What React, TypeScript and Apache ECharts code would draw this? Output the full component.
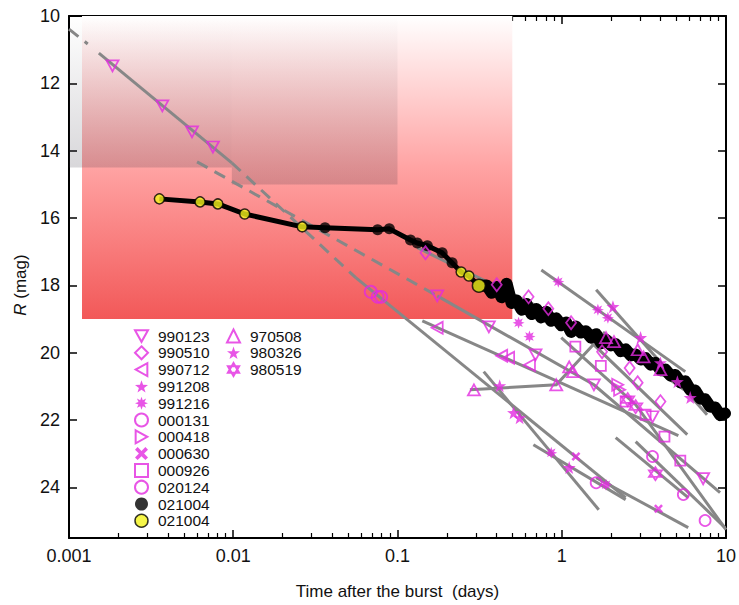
import React, { useEffect, useRef } from 'react';
import * as echarts from 'echarts';

// ---------- data (time after burst in days, R magnitude) ----------
const grb990123: [number, number][] = [
  [0.00184, 11.48], [0.0037, 12.67], [0.00561, 13.44], [0.00752, 13.89],
  [0.1745, 18.31], [0.36, 19.23], [0.692, 20.06], [1.57, 20.95], [3.57, 21.9], [7.26, 23.74],
];
const grb990510: [number, number][] = [
  [0.148, 17.03], [0.402, 17.98], [0.628, 18.34], [0.829, 18.69], [1.14, 19.11],
  [1.76, 19.97], [2.59, 20.45], [2.9, 20.89], [3.99, 21.45],
];
const grb990712: [number, number][] = [[0.1745, 19.26], [0.431, 20.09], [0.475, 20.15], [0.636, 20.36]];
const grb991208: [number, number][] = [[2.05, 18.63], [3.02, 19.55], [3.99, 20.3], [5.06, 20.86], [6.06, 21.33]];
const grb991216: [number, number][] = [
  [0.546, 19.11], [0.636, 19.52], [0.953, 17.89], [1.66, 18.72], [1.91, 18.96], [0.863, 22.97], [1.86, 23.92],
];
const grb000131: [number, number][] = [[1.62, 23.86], [3.57, 23.08], [5.5, 24.21], [7.46, 24.98]];
const grb000418: [number, number][] = [[2.19, 20.95], [2.25, 21.1]];
const grb000630: [number, number][] = [[1.22, 23.08], [3.88, 24.63]];
const grb000926: [number, number][] = [[1.21, 19.82], [1.73, 20.39], [2.45, 21.45], [3.24, 21.84], [4.22, 22.49], [5.27, 23.2]];
const grb020124: [number, number][] = [[0.0687, 18.19], [0.0757, 18.34], [0.0795, 18.34]];
const grb970508: [number, number][] = [
  [0.292, 21.1], [0.926, 20.95], [1.11, 20.42], [1.17, 20.56], [1.86, 19.55],
  [2.08, 19.67], [2.9, 19.91], [3.15, 20.12], [3.99, 20.5],
];
const grb980326: [number, number][] = [[0.419, 20.98], [0.509, 21.78], [0.554, 21.93], [1.11, 23.41]];
const grb980519: [number, number][] = [[2.52, 21.39], [2.82, 21.6], [3.72, 23.59]];

// GRB 021004 light curve
const grb021004Early: [number, number][] = [
  [0.00355, 15.43], [0.00628, 15.52], [0.00806, 15.58], [0.01174, 15.88], [0.0263, 16.26],
  [0.0362, 16.29], [0.0757, 16.35], [0.0892, 16.32], [0.12, 16.65], [0.132, 16.74],
  [0.152, 16.82], [0.187, 17.03], [0.215, 17.33], [0.244, 17.6], [0.272, 17.72], [0.313, 18.01],
];
const lateBandT = [
  0.313, 0.35, 0.375, 0.402, 0.43, 0.462, 0.495, 0.531, 0.57, 0.61, 0.655, 0.701, 0.75, 0.805, 0.86,
  0.926, 0.99, 1.064, 1.14, 1.22, 1.31, 1.4, 1.51, 1.62, 1.74, 1.86, 2.0, 2.13, 2.29, 2.45, 2.63,
  2.82, 3.03, 3.24, 3.48, 3.72, 4.0, 4.28, 4.6, 4.92, 5.28, 5.65, 6.06, 6.49, 6.97, 7.46, 8.0, 8.57, 9.2, 9.86,
];
const lateBandR = [
  18.01, 18.0, 18.22, 18.05, 18.35, 17.95, 18.52, 18.45, 18.72, 18.55, 18.85, 18.7, 18.95, 18.78, 19.05,
  18.98, 19.18, 19.1, 19.38, 19.22, 19.4, 19.36, 19.55, 19.45, 19.72, 19.62, 19.78, 19.74, 19.95, 19.9, 20.08,
  20.05, 20.2, 20.16, 20.35, 20.3, 20.52, 20.5, 20.68, 20.66, 20.88, 20.85, 21.1, 21.12, 21.36, 21.38, 21.6, 21.62, 21.85, 21.8,
];
const blackDots: [number, number][] = [
  [0.0362, 16.29], [0.0757, 16.35], [0.0892, 16.32], [0.12, 16.65], [0.132, 16.74],
  [0.152, 16.82], [0.187, 17.03], [0.215, 17.33],
];
const yellowDots: [number, number][] = [
  [0.00355, 15.43], [0.00628, 15.52], [0.00806, 15.58], [0.01174, 15.88], [0.0263, 16.26],
  [0.244, 17.6], [0.272, 17.72], [0.313, 18.01],
];

// power-law fits
const fitSolid: [number, number][][] = [
  [[0.00152, 11.1], [0.0098, 14.36]],
  [[0.1745, 18.31], [1.57, 20.95], [9.2, 24.15]],
  [[0.132, 16.88], [1.14, 19.11], [5.81, 22.43]],
  [[0.1416, 19.05], [5.13, 22.46]],
  [[1.62, 18.13], [7.67, 21.84]],
  [[0.751, 17.54], [5.65, 20.56]],
  [[0.0557, 17.77], [2.45, 24.3]],
  [[0.335, 20.56], [1.68, 24.66]],
  [[0.672, 22.73], [2.45, 24.36]],
  [[1.62, 23.71], [5.89, 25.19]],
  [[2.82, 22.64], [9.86, 25.19]],
  [[0.993, 19.55], [2.82, 21.54], [10, 25.25]],
  [[0.276, 21.1], [0.926, 20.95], [1.81, 19.41], [6.49, 21.33]],
  [[2.13, 22.52], [5.89, 24.3]],
];
const fitDashed: [number, number][][] = [
  [[0.001, 10.39], [0.0013, 10.83]],
  [[0.0098, 14.36], [0.0557, 17.77]],
  [[0.00602, 14.33], [0.1745, 18.31]],
];

// shaded regions [tStart, tEnd, magTop, magBottom]
const redZone = [0.0012, 0.5, 10, 19];
const grayZones = [
  [0.001, 0.0098, 10, 14.5],
  [0.0098, 0.1, 10, 15],
];

const xTicks = [0.001, 0.01, 0.1, 1, 10];

// ---------- styling ----------
const MAG = '#e22be0';
const FONT = '"Liberation Sans", Arial, Helvetica, sans-serif';
const SYM = {
  down: 'path://M0,0L10,0L5,9Z',
  left: 'path://M9,0L9,10L0,5Z',
  right: 'path://M0,0L9,5L0,10Z',
  star: 'path://M10,0L12.35,6.76L19.51,6.91L13.8,11.24L15.88,18.09L10,14L4.12,18.09L6.2,11.24L0.49,6.91L7.65,6.76Z',
  aster:
    'path://M10,0L11.91,5.38L17.07,2.93L14.62,8.09L20,10L14.62,11.91L17.07,17.07L11.91,14.62L10,20L8.09,14.62L2.93,17.07L5.38,11.91L0,10L5.38,8.09L2.93,2.93L8.09,5.38Z',
  cross: 'path://M2,0L5,3L8,0L10,2L7,5L10,8L8,10L5,7L2,10L0,8L3,5L0,2Z',
  hexa: 'path://M10,0L18.66,15L1.34,15Z M10,20L1.34,5L18.66,5Z',
};

const grbs = [
  { name: '990123', data: grb990123, symbol: SYM.down, size: [12, 11], hollow: true },
  { name: '990510', data: grb990510, symbol: 'diamond', size: [10, 13], hollow: true },
  { name: '990712', data: grb990712, symbol: SYM.left, size: [11, 12], hollow: true },
  { name: '991208', data: grb991208, symbol: SYM.star, size: 13, hollow: false },
  { name: '991216', data: grb991216, symbol: SYM.aster, size: 12, hollow: false },
  { name: '000131', data: grb000131, symbol: 'circle', size: 11, hollow: true },
  { name: '000418', data: grb000418, symbol: SYM.right, size: [11, 12], hollow: true },
  { name: '000630', data: grb000630, symbol: SYM.cross, size: 9, hollow: false },
  { name: '000926', data: grb000926, symbol: 'rect', size: 10, hollow: true },
  { name: '020124', data: grb020124, symbol: 'circle', size: 12, hollow: true },
  { name: '970508', data: grb970508, symbol: 'triangle', size: [12, 11], hollow: true },
  { name: '980326', data: grb980326, symbol: SYM.star, size: 13, hollow: false },
  { name: '980519', data: grb980519, symbol: SYM.hexa, size: 13, hollow: true },
];

const legendItem = (g: any) => ({
  name: g.name,
  icon: g.symbol,
  itemStyle: g.hollow
    ? { color: 'rgba(255,255,255,0)', borderColor: MAG, borderWidth: 2 }
    : { color: MAG, borderWidth: 0 },
});

const legendText = {
  fontSize: 15.5,
  color: '#111',
  fontFamily: FONT,
  lineHeight: 16,
  padding: [0, 0, 0, 5],
};

function buildOption() {
  const scatterSeries = grbs.map((g) => ({
    type: 'scatter',
    name: g.name,
    data: g.data,
    symbol: g.symbol,
    symbolSize: g.size,
    z: 7,
    silent: true,
    itemStyle: g.hollow
      ? { color: 'rgba(255,255,255,0)', borderColor: MAG, borderWidth: 1.8 }
      : { color: MAG, borderWidth: 0 },
  }));

  const grad = (stops: [number, string][]) => ({
    type: 'linear', x: 0, y: 0, x2: 0, y2: 1,
    colorStops: stops.map(([offset, color]) => ({ offset, color })),
  });

  const areas: any[] = [
    [
      {
        xAxis: redZone[0], yAxis: redZone[2],
        itemStyle: { color: grad([[0, '#ffffff'], [0.5, '#ffa3a3'], [1, '#f25858']]) },
      },
      { xAxis: redZone[1], yAxis: redZone[3] },
    ],
    ...grayZones.map((z) => [
      {
        xAxis: z[0], yAxis: z[2],
        itemStyle: { color: grad([[0, 'rgba(50,45,60,0)'], [1, 'rgba(50,45,60,0.19)']]) },
      },
      { xAxis: z[1], yAxis: z[3] },
    ]),
  ];

  const baseX = {
    type: 'log',
    logBase: 10,
    min: 0.001,
    max: 10,
    axisLine: { show: true, lineStyle: { color: '#000', width: 2 } },
    axisTick: { show: true, inside: true, length: 8, lineStyle: { color: '#000', width: 1.5 } },
    minorTick: { show: true, splitNumber: 9, length: 5, lineStyle: { color: '#000', width: 1.2 } },
    splitLine: { show: false },
    minorSplitLine: { show: false },
  };
  const baseY = {
    type: 'value',
    inverse: true,
    min: 10,
    max: 25.5,
    interval: 2,
    axisLine: { show: true, lineStyle: { color: '#000', width: 2 } },
    axisTick: { show: true, inside: true, length: 8, lineStyle: { color: '#000', width: 1.5 } },
    splitLine: { show: false },
  };

  return {
    animation: false,
    backgroundColor: '#ffffff',
    textStyle: { fontFamily: FONT },
    grid: { left: 69, right: 8, top: 16, bottom: 67 },
    xAxis: [
      {
        ...baseX,
        position: 'bottom',
        name: 'Time after the burst  (days)',
        nameLocation: 'middle',
        nameGap: 45,
        nameTextStyle: { fontSize: 17, color: '#111', fontFamily: FONT },
        axisLabel: {
          fontSize: 18,
          color: '#111',
          margin: 9,
          fontFamily: FONT,
          formatter: (v: number) => {
            const hit = xTicks.find((t) => Math.abs(Math.log10(t) - Math.log10(v)) < 1e-6);
            return hit !== undefined ? String(hit) : '';
          },
        },
      },
      { ...baseX, position: 'top', axisLabel: { show: false } },
    ],
    yAxis: [
      {
        ...baseY,
        position: 'left',
        name: '{it|R} (mag)',
        nameLocation: 'middle',
        nameGap: 38,
        nameTextStyle: {
          fontSize: 17,
          color: '#111',
          fontFamily: FONT,
          padding: [0, 16, 0, 0],
          rich: { it: { fontStyle: 'italic', fontSize: 17, color: '#111', fontFamily: FONT } },
        },
        axisLabel: { fontSize: 18, color: '#111', margin: 9, fontFamily: FONT, showMaxLabel: false },
      },
      { ...baseY, position: 'right', axisLabel: { show: false } },
    ],
    legend: [
      {
        orient: 'vertical',
        left: 129,
        top: 323,
        itemWidth: 13,
        itemHeight: 13,
        itemGap: 0.8,
        symbolKeepAspect: true,
        selectedMode: false,
        textStyle: legendText,
        data: [
          ...grbs.slice(0, 10).map(legendItem),
          { name: '021004', icon: 'circle', itemStyle: { color: '#000', borderWidth: 0 } },
          { name: '021004 ', icon: 'circle', itemStyle: { color: '#f4f41c', borderColor: '#000', borderWidth: 1.5 } },
        ],
      },
      {
        orient: 'vertical',
        left: 221,
        top: 323,
        itemWidth: 13,
        itemHeight: 13,
        itemGap: 0.8,
        symbolKeepAspect: true,
        selectedMode: false,
        textStyle: legendText,
        data: grbs.slice(10).map(legendItem),
      },
    ],
    series: [
      {
        type: 'lines',
        coordinateSystem: 'cartesian2d',
        polyline: true,
        silent: true,
        z: 3,
        data: fitSolid.map((c) => ({ coords: c })),
        lineStyle: { color: '#878787', width: 3, opacity: 1, type: 'solid' },
      },
      {
        type: 'lines',
        coordinateSystem: 'cartesian2d',
        polyline: true,
        silent: true,
        z: 3,
        data: fitDashed.map((c) => ({ coords: c })),
        lineStyle: { color: '#878787', width: 3, opacity: 1, type: [12, 8] },
      },
      {
        type: 'line',
        data: grb021004Early,
        symbol: 'none',
        silent: true,
        z: 5,
        lineStyle: { color: '#000', width: 5, join: 'round' },
        markArea: { silent: true, z: 1, label: { show: false }, data: areas },
      },
      {
        type: 'line',
        data: lateBandT.map((t, i) => [t, lateBandR[i]]),
        symbol: 'none',
        silent: true,
        z: 5,
        lineStyle: { color: '#000', width: 12, join: 'round', cap: 'round' },
      },
      {
        type: 'scatter',
        name: '021004',
        data: blackDots,
        symbol: 'circle',
        symbolSize: 11,
        silent: true,
        z: 6,
        itemStyle: { color: '#000' },
      },
      ...scatterSeries,
      {
        type: 'scatter',
        name: '021004 ',
        data: yellowDots,
        symbol: 'circle',
        symbolSize: (_v: any, p: any) => (p.dataIndex === yellowDots.length - 1 ? 13 : 10),
        silent: true,
        z: 8,
        itemStyle: { color: '#f4f41c', borderColor: '#000', borderWidth: 1.5 },
      },
    ],
  };
}

export default function App() {
  const ref = useRef<HTMLDivElement>(null);
  useEffect(() => {
    if (!ref.current) return;
    const chart = echarts.init(ref.current, undefined, { renderer: 'svg' });
    chart.setOption(buildOption() as any);
    return () => chart.dispose();
  }, []);
  return (
    <div
      ref={ref}
      style={{ position: 'fixed', left: 0, top: 0, width: 739, height: 605, background: '#fff' }}
    />
  );
}
